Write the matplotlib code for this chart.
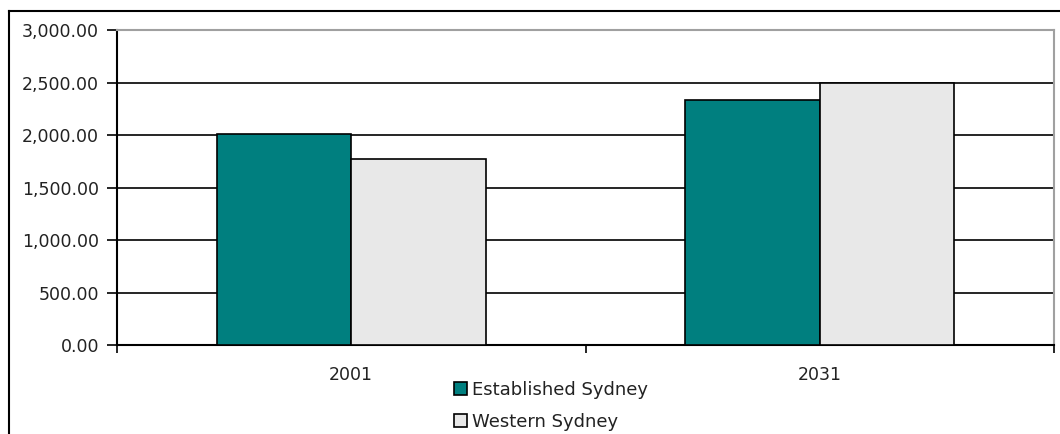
import matplotlib
matplotlib.use('Agg')
import matplotlib.pyplot as plt
from matplotlib.lines import Line2D
from matplotlib.ticker import FuncFormatter
import numpy as np

years = ['2001', '2031']
established = [2010, 2335]
western = [1770, 2495]
series_names = ['Established Sydney', 'Western Sydney']
colors = ['#007F7F', '#E8E8E8']

plt.rcParams['font.family'] = ['DejaVu Sans']

fig = plt.figure(figsize=(10.6, 4.34), dpi=100)
ax = fig.add_axes([117 / 1060, 1 - 345 / 434, (1054 - 117) / 1060, (345 - 30) / 434])

x = np.arange(len(years))
w = 0.287
ax.bar(x - w / 2, established, w, color=colors[0], edgecolor='black', linewidth=1.2,
       label=series_names[0], zorder=3)
ax.bar(x + w / 2, western, w, color=colors[1], edgecolor='black', linewidth=1.2,
       label=series_names[1], zorder=3)

ax.set_xlim(-0.5, len(years) - 0.5)
ax.set_ylim(0, 3000)
ax.set_yticks(np.arange(0, 3001, 500))
ax.yaxis.set_major_formatter(FuncFormatter(lambda v, p: f'{v:,.2f}'))
ax.grid(axis='y', color='black', linewidth=1.2, zorder=0)

# category labels sit between tick marks (Excel style)
ax.set_xticks(x)
ax.set_xticklabels(years)
ax.set_xticks(np.arange(-0.5, len(years)), minor=True)
ax.tick_params(axis='x', which='major', length=0, pad=15, labelsize=12.5, labelcolor='#222222')
ax.tick_params(axis='x', which='minor', length=6, width=1.2, direction='out')
ax.tick_params(axis='y', length=7, width=1.2, direction='out', pad=6, labelsize=12.5,
               labelcolor='#222222')

for side in ['top', 'right']:
    ax.spines[side].set_color('#A0A0A0')
    ax.spines[side].set_linewidth(1.5)
for side in ['left', 'bottom']:
    ax.spines[side].set_color('black')
    ax.spines[side].set_linewidth(1.5)

leg = fig.legend(loc='upper left', bbox_to_anchor=(445 / 1060, 1 - 372 / 434),
                 frameon=False, fontsize=13, handlelength=0.7, handleheight=0.7,
                 handletextpad=0.3, labelspacing=0.78, borderpad=0, labelcolor='#222222')

# outer chart border (top and left visible)
fig.add_artist(Line2D([9 / 1060, 1], [1 - 11 / 434, 1 - 11 / 434], color='black', linewidth=1.5))
fig.add_artist(Line2D([9 / 1060, 9 / 1060], [0, 1 - 11 / 434], color='black', linewidth=1.5))

fig.savefig('out.png', dpi=100, facecolor='white')
